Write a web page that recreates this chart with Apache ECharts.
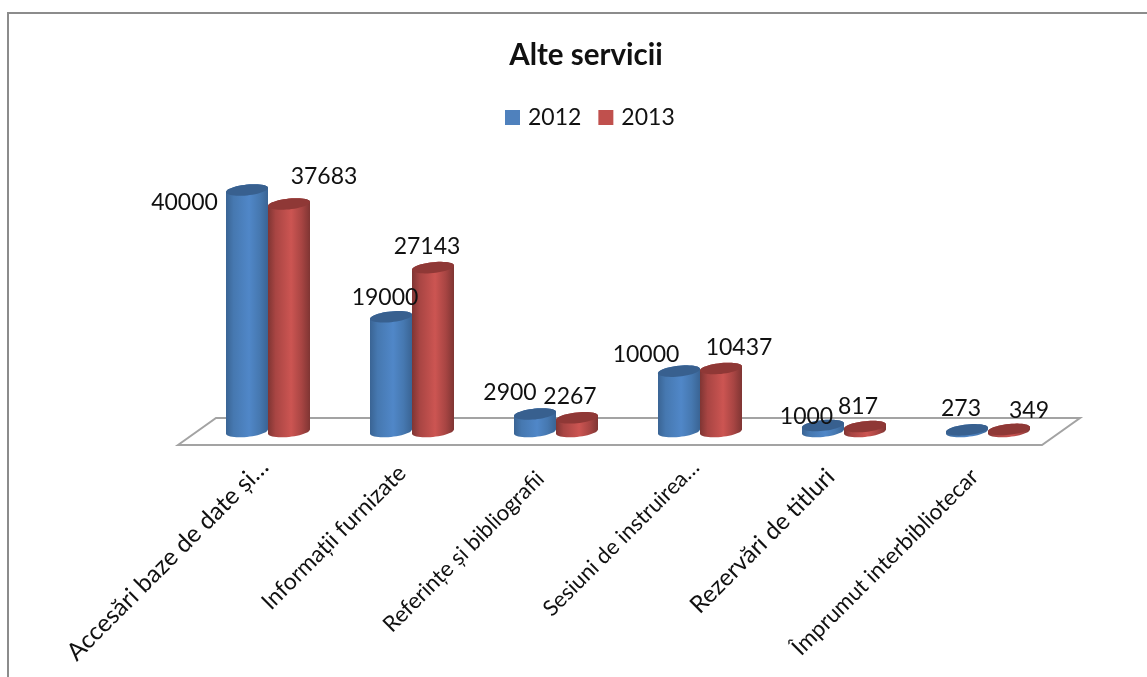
<!DOCTYPE html>
<html><head><meta charset="utf-8">
<style>html,body{margin:0;padding:0;background:#fff}#c{width:1147px;height:677px}</style>
<script src="https://cdn.jsdelivr.net/npm/echarts@6/dist/echarts.min.js"></script>
</head><body><div id="c"></div>
<script>
const categories = ['Accesări baze de date și…','Informații furnizate','Referințe și bibliografii','Sesiuni de instruirea…','Rezervări de titluri','Împrumut interbibliotecar'];
const values2012 = [40000,19000,2900,10000,1000,273];
const values2013 = [37683,27143,2267,10437,817,349];
const labelOffset2012 = [[-62.5,13],[-6,-19],[-25,-21],[-33,-17],[-16.5,-8.5],[-6,-21]];
const labelOffset2013 = [[35,-27],[-6,-21],[-7,-21],[18,-20.5],[-7,-20],[20,-19]];
const labelFont = [24.5,23,22.2,22,24,22.5];
const labelPad = [[0,5,0,0],[0,14,19,0],[0,22,9,0],[0,6,7,0],[0,19,2,0],[0,19,2,0]];

const FONT='Lato, Carlito, "Open Sans", sans-serif';
const HALF=21, RY=5.4, SHEAR=0.1, TXT='#111';
function ell(cx,cy,from,to,n){const p=[];for(let i=0;i<=n;i++){const t=from+(to-from)*i/n;
  p.push([cx+HALF*Math.cos(t),cy+RY*Math.sin(t)-SHEAR*HALF*Math.cos(t)]);}return p;}
function grad(a,b,c){return new echarts.graphic.LinearGradient(0,0,1,0,[
  {offset:0,color:a},{offset:.18,color:b},{offset:.55,color:c},{offset:.8,color:b},{offset:1,color:a}]);}
const blue={side:['#3a6494','#4678b0','#5087c8'],cap:'#38608f'};
const red={side:['#7f3533','#a84543','#cc5552'],cap:'#8f3836'};
function cyl(pal,dir,off,layer){return function(params,api){
  const idx=api.value(0),v=api.value(1);
  const base=api.coord([idx,0]),top=api.coord([idx,v]);
  const cx=base[0]+dir*HALF,by=base[1],ty=top[1];
  const poly=ell(cx,by,Math.PI,0,24).concat(ell(cx,ty,0,-Math.PI,24));
  const cap=ell(cx,ty,0,Math.PI*2,48);
  const o=off[idx];
  return {type:'group',children:[
    {type:'polygon',z2:layer,shape:{points:poly},style:{fill:grad(...pal.side)}},
    {type:'polygon',z2:layer+1,shape:{points:cap},style:{fill:pal.cap}},
    {type:'text',z2:50,x:cx+o[0],y:ty+o[1],style:{text:String(v),font:'23px '+FONT,fill:TXT,align:'center',verticalAlign:'middle'}}
  ]};
};}
function floor(params,api){
  const cs=params.coordSys,y=api.coord([0,0])[1];
  const L=cs.x,R=cs.x+cs.width;
  return {type:'polygon',shape:{points:[[L-18,y+13.5],[L+20,y-13.5],[R+20,y-13.5],[R-18,y+13.5]]},
    style:{fill:'#fff',stroke:'#a3a3a3',lineWidth:2}};
}
const chart=echarts.init(document.getElementById('c'),null,{renderer:'canvas'});
chart.setOption({
  animation:false,backgroundColor:'#fff',
  title:{text:'Alte servicii',left:581,top:35,textAlign:'center',textStyle:{fontFamily:FONT,fontSize:29.5,fontWeight:'bold',color:'#111'}},
  legend:{data:['2012','2013'],left:500,top:101,itemWidth:15,itemHeight:15,itemGap:17,icon:'rect',
    textStyle:{fontFamily:FONT,fontSize:23,color:TXT,padding:[0,0,0,3]}},
  grid:{left:196,right:87,top:190,bottom:245.5},
  xAxis:{type:'category',data:categories.map((c,i)=>({value:c,textStyle:{fontSize:labelFont[i],padding:labelPad[i]}})),
    axisLine:{show:false},axisTick:{show:false},
    axisLabel:{rotate:45,interval:0,margin:28,fontFamily:FONT,fontSize:22.5,color:TXT,hideOverlap:false}},
  yAxis:{type:'value',min:0,max:40000,show:false,splitLine:{show:false}},
  series:[
    {type:'custom',name:'floor',silent:true,renderItem:floor,data:[[0,0]],encode:{x:0,y:1},z:1,clip:false},
    {type:'custom',name:'2012',renderItem:cyl(blue,-1,labelOffset2012,1),itemStyle:{color:'#4f81bd'},encode:{x:0,y:1},z:2,clip:false,data:values2012.map((v,i)=>[i,v])},
    {type:'custom',name:'2013',renderItem:cyl(red,1,labelOffset2013,3),itemStyle:{color:'#c0504d'},encode:{x:0,y:1},z:2,clip:false,data:values2013.map((v,i)=>[i,v])}
  ],
  graphic:[{type:'polyline',silent:true,z:-1,shape:{points:[[8,677],[8,13],[1147,13]]},style:{stroke:'#8c8c8c',lineWidth:2,fill:'none'}}]
});
</script></body></html>
